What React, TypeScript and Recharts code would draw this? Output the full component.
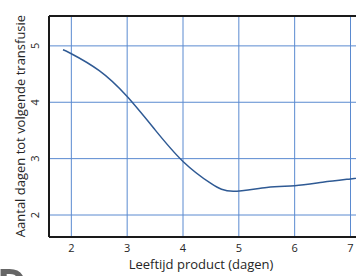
import { LineChart, Line, XAxis, YAxis, CartesianGrid, ReferenceLine } from 'recharts';

const ageDays = [1.85, 2, 2.5, 3, 3.5, 4, 4.5, 4.9, 5.5, 6, 6.5, 7, 7.6];
const daysToNext = [4.93, 4.86, 4.56, 4.1, 3.51, 2.95, 2.56, 2.42, 2.49, 2.52, 2.58, 2.64, 2.71];
const xTicks = [2, 3, 4, 5, 6, 7];
const yTicks = [2, 3, 4, 5];

const data = ageDays.map((age, i) => ({ age, days: daysToNext[i] }));

const font = '"Open Sans", "Noto Sans", sans-serif';
const gridBlue = '#5a8ad0';

function XTick(props: any) {
  const { x, payload } = props;
  return (
    <text x={x} y={244} textAnchor="middle" fontSize={11} fill="#262626" fontFamily={font}>
      {payload.value}
    </text>
  );
}

function YTick(props: any) {
  const { y, payload } = props;
  return (
    <text
      x={31}
      y={y}
      transform={`rotate(-90 31 ${y})`}
      textAnchor="middle"
      fontSize={11}
      fill="#262626"
      fontFamily={font}
    >
      {payload.value}
    </text>
  );
}

export default function App() {
  return (
    <div style={{ width: 356, height: 268, overflow: 'hidden', position: 'relative' }}>
      <LineChart width={390} height={268} data={data} margin={{ top: 8, right: 14, bottom: 0, left: 0 }}>
        <CartesianGrid stroke={gridBlue} strokeWidth={1} />
        <XAxis
          dataKey="age"
          type="number"
          domain={[1.6, 7.6]}
          ticks={xTicks}
          allowDataOverflow
          height={39}
          tickLine={false}
          axisLine={{ stroke: '#1a1a1a', strokeWidth: 2 }}
          tick={<XTick />}
          label={{
            content: () => (
              <text x={193} y={261} textAnchor="middle" fontSize={13} fill="#262626" fontFamily={font}>
                Leeftijd product (dagen)
              </text>
            ),
          }}
        />
        <YAxis
          type="number"
          domain={[1.61, 5.53]}
          ticks={yTicks}
          allowDataOverflow
          width={41}
          tickLine={false}
          axisLine={{ stroke: '#1a1a1a', strokeWidth: 2 }}
          tick={<YTick />}
          label={{
            content: () => (
              <text
                x={17}
                y={118}
                transform="rotate(-90 17 118)"
                textAnchor="middle"
                fontSize={13}
                fill="#262626"
                fontFamily={font}
              >
                Aantal dagen tot volgende transfusie
              </text>
            ),
          }}
        />
        <ReferenceLine y={5.53} stroke="#1a1a1a" strokeWidth={2} ifOverflow="visible" />
        <Line
          type="natural"
          dataKey="days"
          stroke="#2f5a94"
          strokeWidth={1.5}
          dot={false}
          isAnimationActive={false}
        />
      </LineChart>
      <div
        style={{
          position: 'fixed',
          left: -3,
          top: 262,
          fontFamily: font,
          fontWeight: 700,
          fontSize: 40,
          color: '#666',
          lineHeight: 1,
        }}
      >
        D
      </div>
    </div>
  );
}
